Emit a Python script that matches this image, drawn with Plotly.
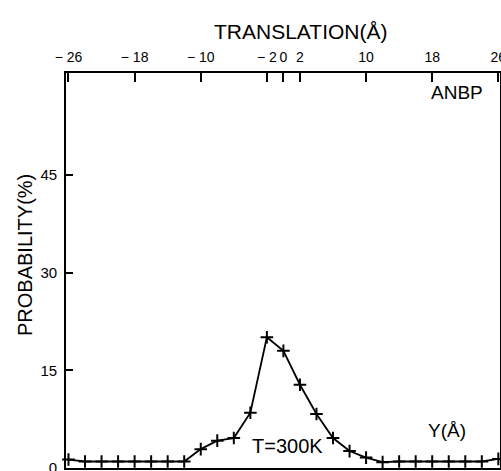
import plotly.graph_objects as go

translation = [-26, -24, -22, -20, -18, -16, -14, -12, -10, -8, -6, -4, -2, 0,
               2, 4, 6, 8, 10, 12, 14, 16, 18, 20, 22, 24, 26]
probability = [1.3, 1.0, 1.0, 1.0, 1.0, 1.0, 1.0, 1.0, 2.9, 4.2, 4.6, 8.5, 20.1, 18.0,
               12.8, 8.3, 4.6, 2.6, 1.6, 0.9, 1.0, 1.0, 1.0, 1.0, 1.0, 1.0, 1.4]

x_tickvals = [-26, -18, -10, -2, 0, 2, 10, 18, 26]
x_ticktext = ["\u2212 26", "\u2212 18", "\u2212 10", "\u2212 2", "0", "2", "10", "18", "26"]
y_tickvals = [0, 15, 30, 45]
y_ticktext = ["0", "15", "30", "45"]

FONT = "Liberation Sans"

fig = go.Figure()
fig.add_trace(go.Scatter(
    x=translation, y=probability, mode="lines+markers",
    line=dict(color="black", width=1.8),
    marker=dict(symbol="cross-thin", size=9, line=dict(color="black", width=2)),
    showlegend=False, cliponaxis=False,
))

fig.update_layout(
    width=501, height=471,
    margin=dict(l=66, r=1, t=73, b=3, autoexpand=False),
    paper_bgcolor="white", plot_bgcolor="white",
    font=dict(family=FONT, color="black"),
    xaxis=dict(
        range=[-26.3, 26.2], side="top", automargin=False, tickangle=0,
        tickmode="array", tickvals=x_tickvals, ticktext=x_ticktext,
        ticks="inside", ticklen=9, tickwidth=1.5, tickcolor="black",
        tickfont=dict(size=14, family=FONT, color="black"),
        ticklabelstandoff=4, ticklabeloverflow="allow",
        showline=True, linecolor="black", linewidth=1.8, mirror=True,
        showgrid=False, zeroline=False,
    ),
    yaxis=dict(
        range=[0, 60.7], automargin=False,
        tickmode="array", tickvals=y_tickvals, ticktext=y_ticktext,
        ticks="inside", ticklen=7, tickwidth=1.5, tickcolor="black",
        tickfont=dict(size=15, family=FONT, color="black"),
        ticklabelstandoff=4, ticklabeloverflow="allow",
        showline=True, linecolor="black", linewidth=1.8, mirror=True,
        showgrid=False, zeroline=False,
    ),
)

annos = [
    dict(text="TRANSLATION(Å)", x=(300 - 66) / 434, y=(468 - 31) / 395, size=21),
    dict(text="ANBP", x=(457 - 66) / 434, y=(468 - 92) / 395, size=19),
    dict(text="Y(Å)", x=(447 - 66) / 434, y=(468 - 430) / 395, size=19),
    dict(text="T=300K", x=(287 - 66) / 434, y=(468 - 446) / 395, size=20),
]
for a in annos:
    fig.add_annotation(text=a["text"], x=a["x"], y=a["y"], xref="paper", yref="paper",
                       showarrow=False, xanchor="center", yanchor="middle",
                       font=dict(size=a["size"], family=FONT, color="black"))

fig.add_annotation(text="PROBABILITY(%)", x=(25 - 66) / 434, y=(468 - 255) / 395,
                   xref="paper", yref="paper", showarrow=False, textangle=-90,
                   xanchor="center", yanchor="middle",
                   font=dict(size=20, family=FONT, color="black"))

fig.write_html("out.html", config={"displayModeBar": False},
               post_script="document.body.style.margin='0';document.body.style.padding='0';")
